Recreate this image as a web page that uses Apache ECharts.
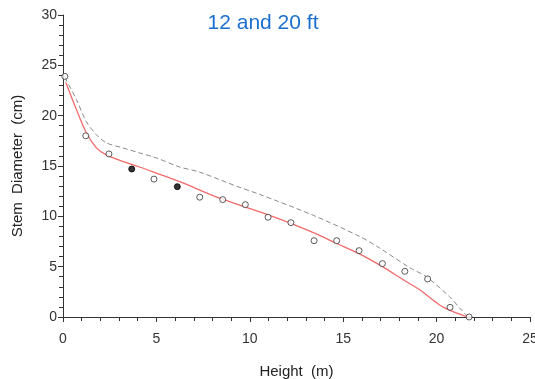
<!DOCTYPE html>
<html>
<head>
<meta charset="utf-8">
<script src="https://cdn.jsdelivr.net/npm/echarts@6/dist/echarts.min.js"></script>
<style>
  html, body { margin: 0; padding: 0; background: #fff; }
  #chart { width: 535px; height: 379px; }
</style>
</head>
<body>
<div id="chart"></div>
<script>
// measured stem diameters (open circles) and the two cut points at 12 and 20 ft (filled)
const openPoints = [
  [0.1, 23.9], [1.22, 18.0], [2.46, 16.2], [4.87, 13.7], [7.32, 11.9],
  [8.55, 11.66], [9.76, 11.16], [10.98, 9.91], [12.2, 9.37], [13.44, 7.58],
  [14.65, 7.58], [15.85, 6.59], [17.1, 5.3], [18.3, 4.54], [19.52, 3.78],
  [20.72, 0.96], [21.74, 0]
];
const filledPoints = [[3.68, 14.7], [6.12, 12.95]];

// fitted taper curve (red, solid)
const fitCurve = [
  [0.15, 23.3], [0.72, 20.6], [1.25, 18.3], [1.79, 16.8], [2.32, 16.1],
  [3.2, 15.45], [4.1, 14.9], [5.0, 14.3], [6.25, 13.45], [8.39, 11.8],
  [11.06, 10.1], [12.2, 9.3], [13.56, 8.25], [14.6, 7.35], [15.9, 6.25],
  [17.1, 5.0], [18.3, 3.6], [19.1, 2.7], [20.16, 1.2], [20.88, 0.53],
  [21.68, 0]
];
// reference taper curve (grey, dashed)
const refCurve = [
  [0.1, 23.8], [0.72, 21.6], [1.25, 19.4], [1.79, 18.1], [2.32, 17.3],
  [3.2, 16.8], [4.1, 16.3], [5.0, 15.8], [6.25, 14.9], [7.3, 14.4],
  [9.28, 13.0], [10.5, 12.2], [13.4, 10.1], [15.88, 8.0], [16.95, 6.85],
  [18.56, 4.9], [19.45, 4.0], [20.7, 2.0], [21.33, 0.7], [21.68, 0]
];

const axisColor = "#333";
const font = "Liberation Sans, Arial, sans-serif";

let chart = echarts.init(document.getElementById("chart"));
let option = {
  animation: false,
  title: {
    text: "12 and 20 ft",
    left: 258,
    textAlign: "center",
    top: 8,
    textStyle: { color: "#1a6fcf", fontSize: 21, fontWeight: "normal", fontFamily: font }
  },
  grid: { left: 63, right: 5, top: 15, bottom: 62, outerBoundsMode: "none" },
  xAxis: {
    type: "value",
    min: 0, max: 25, interval: 5,
    name: "Height  (m)",
    nameLocation: "middle",
    nameGap: 47,
    nameTextStyle: { color: "#222", fontSize: 15, fontFamily: font },
    axisLine: { lineStyle: { color: axisColor, width: 1 } },
    axisTick: { length: 5, lineStyle: { color: axisColor } },
    minorTick: { show: true, splitNumber: 5, length: 4, lineStyle: { color: axisColor } },
    axisLabel: { color: "#333", fontSize: 14, margin: 15, fontFamily: font },
    splitLine: { show: false }
  },
  yAxis: {
    type: "value",
    min: 0, max: 30, interval: 5,
    name: "Stem  Diameter  (cm)",
    nameLocation: "middle",
    nameGap: 38,
    nameTextStyle: { color: "#222", fontSize: 15, fontFamily: font },
    axisLine: { show: true, lineStyle: { color: axisColor, width: 1 } },
    axisTick: { show: true, length: 5, lineStyle: { color: axisColor } },
    minorTick: { show: true, splitNumber: 5, length: 4, lineStyle: { color: axisColor } },
    axisLabel: { color: "#333", fontSize: 14, margin: 6, fontFamily: font },
    splitLine: { show: false }
  },
  series: [
    {
      type: "line",
      data: refCurve,
      smooth: 0.3,
      showSymbol: false,
      lineStyle: { color: "#8a8a8a", width: 1, type: [5, 3] },
      z: 2
    },
    {
      type: "line",
      data: fitCurve,
      smooth: 0.3,
      showSymbol: false,
      lineStyle: { color: "#f26a6a", width: 1.3 },
      z: 3
    },
    {
      type: "scatter",
      data: openPoints,
      symbol: "circle",
      symbolSize: 6,
      itemStyle: { color: "#fff", borderColor: "#333", borderWidth: 1 },
      z: 4
    },
    {
      type: "scatter",
      data: filledPoints,
      symbol: "circle",
      symbolSize: 6,
      itemStyle: { color: "#000", borderColor: "#000", borderWidth: 1 },
      z: 4
    }
  ]
};
chart.setOption(option);
</script>
</body>
</html>
